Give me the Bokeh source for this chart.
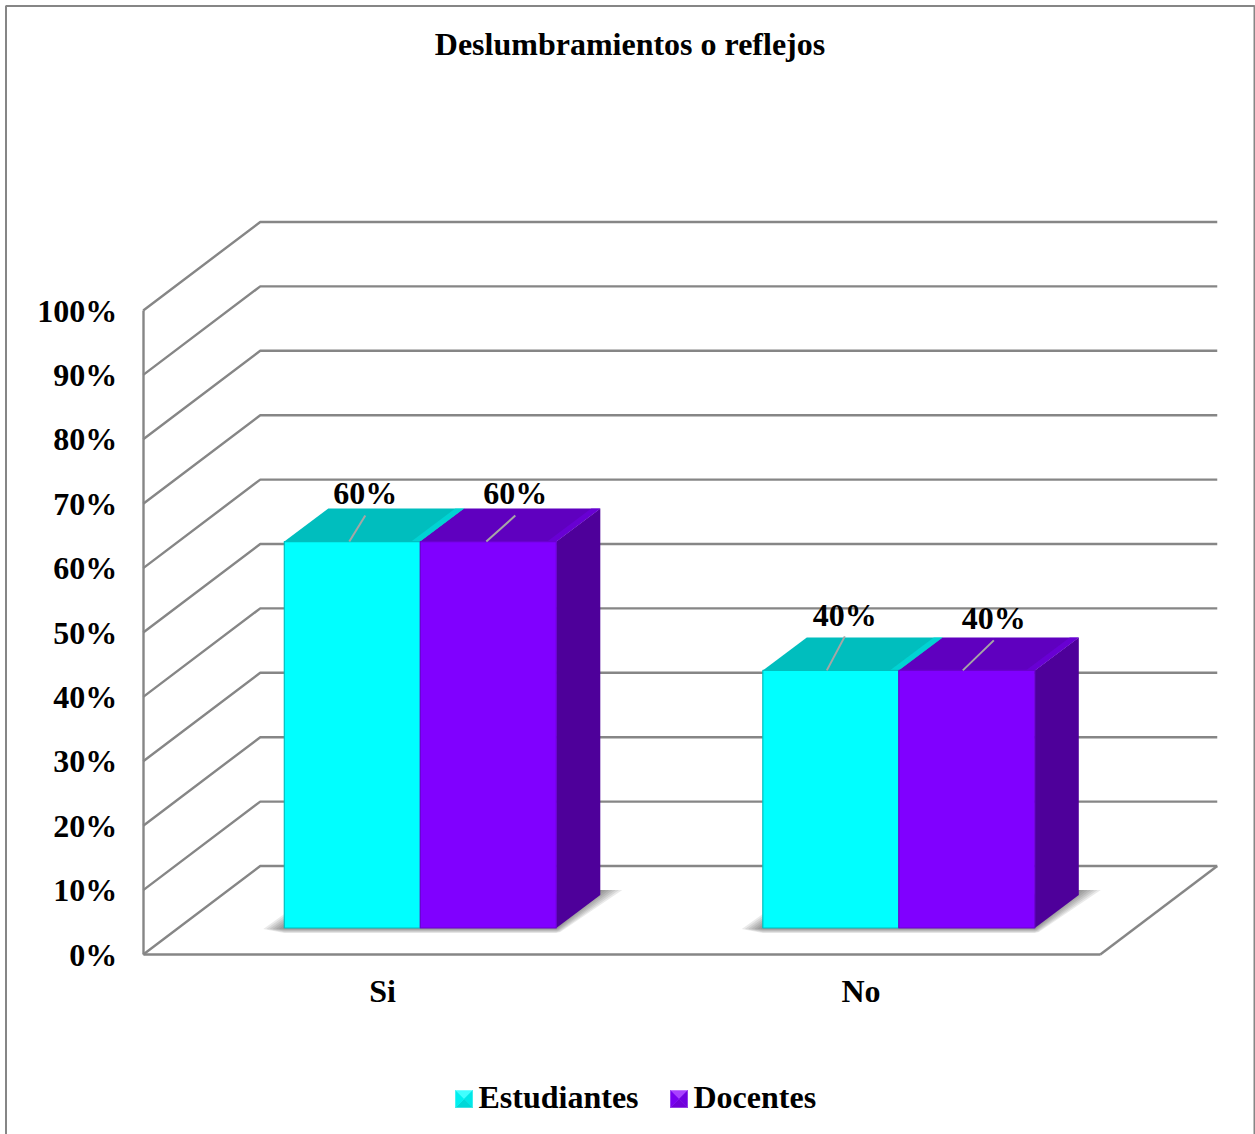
from bokeh.embed import file_html
from bokeh.resources import INLINE
from bokeh.plotting import figure
from bokeh.models import Range1d, LinearAxis, FixedTicker
from bokeh.core.properties import value

# Chart content
title_text = "Deslumbramientos o reflejos"
categories = ["Si", "No"]
estudiantes = [60, 40]
docentes = [60, 40]
tick_values = [0, 10, 20, 30, 40, 50, 60, 70, 80, 90, 100]
tick_labels = ["0%", "10%", "20%", "30%", "40%", "50%", "60%", "70%", "80%", "90%", "100%"]
series_names = ["Estudiantes", "Docentes"]

# Page and projection layout, in pixels
W, H = 1255, 1134
CAT0_PX, CAT_STEP = 382.0, 478.5     # centre of the first category, distance between categories
ZERO_PX, PCT_STEP = 954.0, 6.44      # row of 0 %, rows per percentage point
WALL_DX, WALL_DY = 117.0, 88.5       # depth of the chart box
BAR_W, BAR_DX, BAR_DY = 136.0, 44.0, 33.0   # bar width and depth of one bar
BAR_SHIFT, BAR_LIFT = 37.8, 26.5     # how far back the bars stand on the floor
FONT = value("Liberation Serif")
FONT_SIZE = "32px"
GRID = "#868686"


def X(px):
    return (px - CAT0_PX) / CAT_STEP


def Y(px):
    return (ZERO_PX - px) / PCT_STEP


ux = 1 / CAT_STEP
uy = 1 / PCT_STEP

p = figure(width=W, height=H, output_backend="svg", toolbar_location=None,
           x_range=Range1d(X(0), X(W)), y_range=Range1d(Y(H), Y(0)),
           x_axis_type=None, y_axis_type=None, min_border=0,
           outline_line_color=None, background_fill_color="white", border_fill_color="white")
p.grid.visible = False

# Outer frame of the chart, open at the bottom of the page
p.line([X(5.5), X(5.5), X(1254), X(1254)], [Y(H), Y(5.5), Y(5.5), Y(H)],
       line_color=GRID, line_width=2)

# Left wall diagonals and back wall rules at each tick
left = -0.5
right = 1.5
for t in tick_values:
    back = t + WALL_DY * uy
    p.line([left, left + WALL_DX * ux, right + WALL_DX * ux], [t, back, back],
           line_color=GRID, line_width=2.4)
# Right edge of the floor
p.line([right, right + WALL_DX * ux], [0, WALL_DY * uy], line_color=GRID, line_width=2.4)


def bar_shadow(x0, x1):
    """Soft floor shadow: wedges left of the base, under it, and along the right flank."""
    base = BAR_LIFT * uy
    top = base + (BAR_DY + 5) * uy
    for k in (1.0, 0.85, 0.7, 0.55, 0.4, 0.25, 0.1):
        xs = [x0, x0 - 21 * k * ux, x0, x1, x1 + 4 * k * ux,
              x1 + (BAR_DX + 22 * k) * ux, x1 + BAR_DX * ux]
        ys = [base + 14 * k * uy, base - 1 * uy, base - 5 * k * uy, base - 5 * k * uy,
              base - 4 * k * uy, top, top]
        p.patch(xs, ys, fill_color="#404040", fill_alpha=0.11, line_color=None)


def bar(x0, val, front, top, top_edge, side, edge):
    """One box: front face, lit top with a bevelled right edge, dark side."""
    x1 = x0 + BAR_W * ux
    base = BAR_LIFT * uy
    head = base + val
    dx = BAR_DX * ux
    dy = BAR_DY * uy
    p.patch([x1, x1 + dx, x1 + dx, x1], [base, base + dy, head + dy, head],
            fill_color=side, line_color=None)
    p.patch([x0, x0 + dx, x1 + dx, x1], [head, head + dy, head + dy, head],
            fill_color=top, line_color=None)
    bevel = 9 * ux
    p.patch([x1 - bevel, x1 + dx - bevel, x1 + dx, x1],
            [head, head + dy, head + dy, head],
            fill_color=top_edge, fill_alpha=0.8, line_color=None)
    p.patch([x0, x1, x1, x0], [base, base, head, head],
            fill_color=front, line_color=edge, line_width=1.2)


bar_left = [i + BAR_SHIFT * ux - BAR_W * ux for i in range(len(categories))]
for i in range(len(categories)):
    bar_shadow(bar_left[i], bar_left[i] + 2 * BAR_W * ux)
    bar(bar_left[i], estudiantes[i], "#00FFFF", "#00BEBE", "#00D8D8", "#009F9F", "#00BFBF")
    bar(bar_left[i] + BAR_W * ux, docentes[i], "#8000FF", "#5F00BF", "#6A00D8", "#4E009A", "#6A00D0")

# Leader lines and value labels, each anchored to the top of its bar
# (start along the bar's front edge, end near the label, label centre and baseline, all in px)
label_layout = [
    (0, 65, 16, -26, 81, -49, estudiantes),
    (0, 202, 29, -26, 231, -49, docentes),
    (1, 64, 18, -34, 82, -55, estudiantes),
    (1, 200, 31, -30, 231, -52, docentes),
]
for cat, sx, ex, ey, tx, ty, series in label_layout:
    v = series[cat]
    start = bar_left[cat] + sx * ux
    head = BAR_LIFT * uy + v
    p.line([start, start + ex * ux], [head, head - ey * uy],
           line_color="#A6A6A6", line_width=2)
    p.text([bar_left[cat] + tx * ux], [head - ty * uy], text=[f"{v}%"],
           text_font=FONT, text_font_style="bold", text_font_size=FONT_SIZE,
           text_color="black", text_align="center", text_baseline="alphabetic")

# Axes sit on the front edges of the floor
yaxis = LinearAxis(fixed_location=left, bounds=(0, 100),
                   ticker=FixedTicker(ticks=tick_values),
                   major_label_overrides=dict(zip(tick_values, tick_labels)),
                   major_tick_line_color=None, minor_tick_line_color=None,
                   axis_line_color=GRID, axis_line_width=2.4,
                   major_label_standoff=20,
                   major_label_text_font="Liberation Serif",
                   major_label_text_font_style="bold",
                   major_label_text_font_size=FONT_SIZE,
                   major_label_text_color="black")
p.add_layout(yaxis, "left")

xaxis = LinearAxis(fixed_location=0, bounds=(left, right),
                   ticker=FixedTicker(ticks=list(range(len(categories)))),
                   major_label_overrides=dict(enumerate(categories)),
                   major_tick_line_color=None, minor_tick_line_color=None,
                   axis_line_color=GRID, axis_line_width=2.6,
                   major_label_standoff=12,
                   major_label_text_font="Liberation Serif",
                   major_label_text_font_style="bold",
                   major_label_text_font_size=FONT_SIZE,
                   major_label_text_color="black")
p.add_layout(xaxis, "below")

# Title
p.text([X(629.5)], [Y(43)], text=[title_text], text_font=FONT, text_font_style="bold",
       text_font_size=FONT_SIZE, text_color="black", text_align="center",
       text_baseline="alphabetic")


def swatch(px, py, size, faces):
    """Legend key: a small square bevelled into four triangles around a centre."""
    cx, cy = px + size / 2, py + size / 2
    corners = [(px, py), (px + size, py), (px + size, py + size), (px, py + size)]
    for k, colour in enumerate(faces):
        a, b = corners[k], corners[(k + 1) % 4]
        p.patch([X(a[0]), X(b[0]), X(cx)], [Y(a[1]), Y(b[1]), Y(cy)],
                fill_color=colour, line_color=colour, line_width=0.5)


swatch(455, 1090, 17, ["#40FFFF", "#00E8E8", "#00D8D8", "#00F0F0"])
swatch(670, 1090, 17, ["#A840FF", "#7000E0", "#7000D8", "#7800F0"])
for name, px in zip(series_names, [478, 693]):
    p.text([X(px)], [Y(1096)], text=[name], text_font=FONT, text_font_style="bold",
           text_font_size=FONT_SIZE, text_color="black", text_align="left",
           text_baseline="alphabetic")

open("out.html", "w").write(file_html(p, INLINE))
